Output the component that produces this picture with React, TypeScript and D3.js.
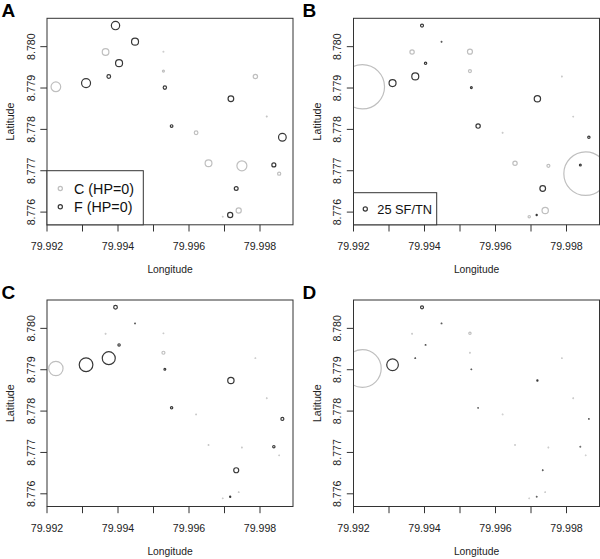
import React from "react";
import * as d3 from "d3";

// ---- data ----
const siteIds = [1,2,3,4,5,6,7,8,9,10,11,12,13,14,15,16,17,18,19,20,21,22,23,24];
const longitude = [79.99225,79.9931,79.99393,79.99448,79.99365,79.99403,79.99374,79.99528,79.99528,79.99532,79.99551,79.9962,79.99718,79.99787,79.99819,79.99863,79.99655,79.99749,79.99839,79.99854,79.99733,79.9974,79.99716,79.99695];
const latitude = [8.77903,8.77912,8.78051,8.78012,8.77987,8.7796,8.77928,8.77988,8.77941,8.77901,8.77808,8.77792,8.77874,8.77928,8.77831,8.77781,8.77718,8.77712,8.77714,8.77693,8.77657,8.77604,8.77593,8.77589];
const group = ["C","F","F","F","C","F","F","C","C","F","F","C","F","C","C","F","C","C","F","C","F","C","F","C"];
const valuesA = [58,54,50,42,40,42,22,4,12,20,16,22,34,26,5,46,41,60,24,19,23,31,31,4];
const valuesB = [266,42,18,4,26,14,42,30,18,11,26,4,38,4,4,14,26,18,11,262,34,38,7,14];
const valuesC = [86,82,22,4,4,14,78,4,18,11,14,4,38,3,3,18,4,4,14,4,30,4,7,4];
const valuesD = [226,70,18,4,4,4,4,14,4,4,3,3,7,3,3,3,3,3,3,3,3,3,3,3];
const panelLetters = ["A","B","C","D"];
const xTicks = [79.992,79.993,79.994,79.995,79.996,79.997,79.998];
const xTickLabels = ["79.992","","79.994","","79.996","","79.998"];
const yTicks = [8.776,8.777,8.778,8.779,8.78];
const yTickLabels = ["8.776","8.777","8.778","8.779","8.780"];
const legendALabels = ["C (HP=0)","F (HP=0)"];
const legendBValue = 25;
const legendBLabel = "25 SF/TN";

const FONT = "'Liberation Sans', Arial, Helvetica, sans-serif";
const DARK = "#383838";
const GRAY = "#bfbfbf";

const W = 246;
const H = 206.5;
const lefts = [47, 353.5, 47, 353.5];
const tops = [18.3, 18.3, 300, 300];
const letterPos = [[1.5, 16.8], [302.5, 16.8], [1.5, 299.3], [302.5, 299.3]];
const panelValues = [valuesA, valuesB, valuesC, valuesD];

const rScale = d3.scaleLinear().domain([0, 12]).range([0, 1]);

function Panel({ idx }: { idx: number }) {
  const x0 = lefts[idx];
  const y0 = tops[idx];
  const x = d3.scaleLinear().domain([79.992, 79.992 + W / 35500]).range([x0, x0 + W]);
  const y = d3.scaleLinear().domain([8.775693, 8.780686]).range([y0 + H, y0]);
  const vals = panelValues[idx];
  const order = d3.range(siteIds.length).sort((a, b) => vals[b] - vals[a]);
  return (
    <g>
      <text x={letterPos[idx][0]} y={letterPos[idx][1]} fontFamily={FONT} fontWeight="bold" fontSize={19} fill="#000">{panelLetters[idx]}</text>
      <defs>
        <clipPath id={"clip" + idx}>
          <rect x={x0} y={y0} width={W} height={H} />
        </clipPath>
      </defs>
      <g clipPath={`url(#clip${idx})`}>
        {order.map((i) => (
          <circle key={i} cx={x(longitude[i])} cy={y(latitude[i])} r={Math.max(0.3, rScale(vals[i]))}
            fill="none" stroke={group[i] === "C" ? GRAY : DARK} strokeWidth={1.2} />
        ))}
      </g>
      <rect x={x0} y={y0} width={W} height={H} fill="none" stroke="#333" strokeWidth={1} />
      {xTicks.map((t, k) => (
        <g key={"xt" + k}>
          <line x1={x(t)} x2={x(t)} y1={y0 + H} y2={y0 + H + 6.7} stroke="#333" strokeWidth={1} />
          {xTickLabels[k] && (
            <text x={x(t)} y={y0 + H + 25.2} textAnchor="middle" fontFamily={FONT} fontSize={10.6} fill="#222">{xTickLabels[k]}</text>
          )}
        </g>
      ))}
      {yTicks.map((t, k) => (
        <g key={"yt" + k}>
          <line x1={x0 - 6.7} x2={x0} y1={y(t)} y2={y(t)} stroke="#333" strokeWidth={1} />
          <text transform={`translate(${x0 - 12.5},${y(t)}) rotate(-90)`} textAnchor="middle" fontFamily={FONT} fontSize={10.6} fill="#222">{yTickLabels[k]}</text>
        </g>
      ))}
      <text x={x0 + W / 2} y={y0 + H + 48} textAnchor="middle" fontFamily={FONT} fontSize={10.3} fill="#222">Longitude</text>
      <text transform={`translate(${x0 - 33},${y0 + H / 2}) rotate(-90)`} textAnchor="middle" fontFamily={FONT} fontSize={10.6} fill="#222">Latitude</text>
      {idx === 0 && (
        <g>
          <rect x={x0} y={170.7} width={96.3} height={y0 + H - 170.7} fill="#fff" stroke="#333" strokeWidth={1} />
          {legendALabels.map((lab, k) => (
            <g key={lab}>
              <circle cx={x0 + 13.3} cy={188.5 + k * 18.3} r={2.1} fill="none" stroke={k === 0 ? GRAY : DARK} strokeWidth={1.2} />
              <text x={x0 + 27} y={193.6 + k * 18.3} fontFamily={FONT} fontSize={14.3} fill="#111">{lab}</text>
            </g>
          ))}
        </g>
      )}
      {idx === 1 && (
        <g>
          <rect x={x0} y={192.7} width={83.2} height={y0 + H - 192.7} fill="#fff" stroke="#333" strokeWidth={1} />
          <circle cx={x0 + 11.8} cy={209} r={rScale(legendBValue)} fill="none" stroke={DARK} strokeWidth={1.2} />
          <text x={x0 + 23.8} y={214} fontFamily={FONT} fontSize={12.8} fill="#111">{legendBLabel}</text>
        </g>
      )}
    </g>
  );
}

export default function App() {
  return (
    <svg width={600} height={559} style={{ position: "absolute", left: 0, top: 0, background: "#fff" }}>
      <rect x={0} y={0} width={600} height={559} fill="#fff" />
      {[0, 1, 2, 3].map((i) => <Panel key={i} idx={i} />)}
    </svg>
  );
}
